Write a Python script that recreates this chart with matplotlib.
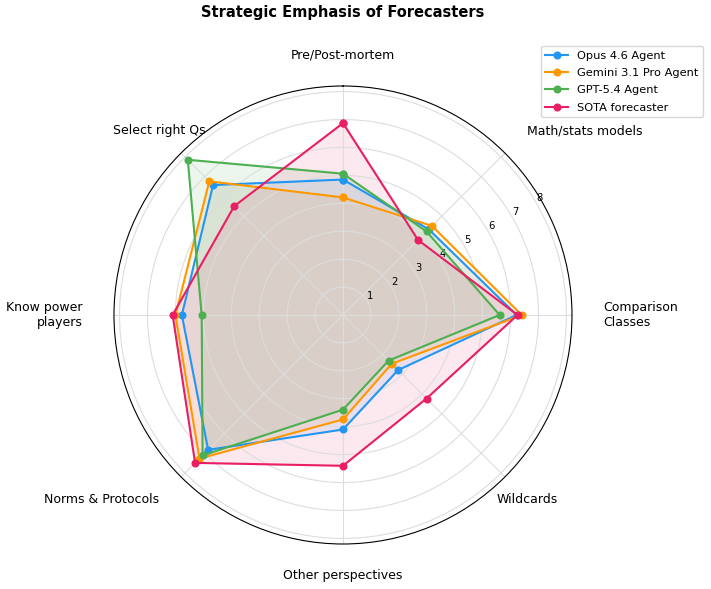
import matplotlib.pyplot as plt
import numpy as np

categories = ["Pre/Post-mortem", "Math/stats models", "Comparison\nClasses", "Wildcards",
              "Other perspectives", "Norms & Protocols", "Know power\nplayers", "Select right Qs"]
series_names = ["Opus 4.6 Agent", "Gemini 3.1 Pro Agent", "GPT-5.4 Agent", "SOTA forecaster"]
opus = [4.85, 4.34, 6.22, 2.79, 4.10, 6.83, 5.77, 6.58]
gemini = [4.21, 4.51, 6.40, 2.47, 3.74, 7.27, 6.00, 6.77]
gpt = [5.06, 4.23, 5.61, 2.31, 3.39, 7.11, 5.06, 7.86]
sota = [6.87, 3.80, 6.25, 4.23, 5.40, 7.49, 6.10, 5.51]
colors = ["#2196F3", "#FF9800", "#4CAF50", "#E91E63"]

n = len(categories)
angles = np.linspace(0, 2 * np.pi, n, endpoint=False)
closed = np.concatenate([angles, angles[:1]])

fig = plt.figure(figsize=(7.11, 5.89), dpi=100)
ax = fig.add_axes([0.1603, 0.0764, 0.6442, 0.7776], projection="polar")
ax.set_theta_offset(np.pi / 2)
ax.set_theta_direction(-1)

for name, vals, col in zip(series_names, [opus, gemini, gpt, sota], colors):
    v = np.concatenate([vals, vals[:1]])
    ax.plot(closed, v, color=col, lw=1.5, marker="o", ms=4.8, label=name)
    ax.fill(closed, v, color=col, alpha=0.1)

ax.set_ylim(0, 8.2)
ax.set_yticks(range(1, 9))
ax.set_yticklabels([str(i) for i in range(1, 9)], fontsize=7.2)
ax.set_rlabel_position(60)
ax.set_xticks(angles)
ax.set_xticklabels(categories, fontsize=9)
ax.tick_params(axis="x", pad=12)
align = ["center", "left", "left", "center", "center", "right", "right", "center"]
for lab, ha in zip(ax.get_xticklabels(), align):
    lab.set_horizontalalignment(ha)
ax.grid(color="#dddddd", lw=0.8)
ax.spines["polar"].set_color("black")
ax.spines["polar"].set_linewidth(0.8)

fig.text(343 / 711, 1 - 13 / 589, "Strategic Emphasis of Forecasters",
         ha="center", va="center", fontsize=10.5, fontweight="bold")
fig.legend(loc="upper right", bbox_to_anchor=(703 / 711, 1 - 46 / 589), fontsize=8.2,
           borderaxespad=0, labelspacing=0.65)

fig.savefig("out.png", dpi=100)
